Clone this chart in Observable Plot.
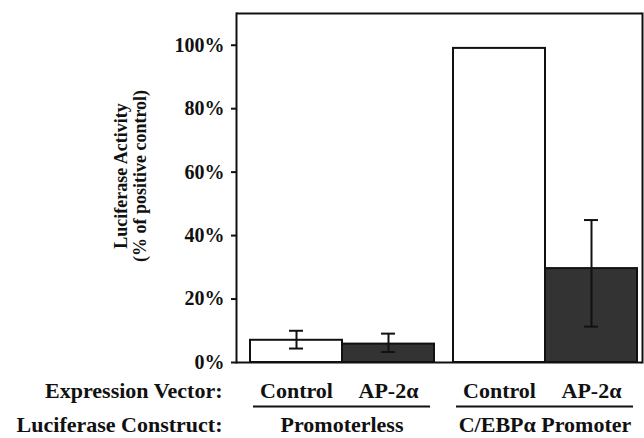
<!DOCTYPE html>
<html>
<head>
<meta charset="utf-8">
<script src="https://cdn.jsdelivr.net/npm/d3@7"></script>
<script src="https://cdn.jsdelivr.net/npm/@observablehq/plot@0.6"></script>
<style>
  html, body { margin: 0; padding: 0; background: #fff; }
  #chart svg, #chart svg text, #chart svg g {
    font-family: "Liberation Serif", "Times New Roman", serif !important;
    font-weight: 700 !important;
  }
</style>
</head>
<body>
<div id="chart"></div>
<script>
const groups = ["Promoterless", "C/EBPα Promoter"];
const vectors = ["Control", "AP-2α"];
const values = [7, 5.8, 99, 29.6];
const errLow = [4.4, 3.3, null, 11.3];
const errHigh = [10, 9.1, null, 44.9];
const yTicks = [0, 20, 40, 60, 80, 100];
const barFill = {"Control": "#ffffff", "AP-2α": "#333333"};

const rows = groups.flatMap((g, i) => vectors.map((v, j) => ({
  group: g, vector: v, value: values[i * 2 + j],
  lo: errLow[i * 2 + j], hi: errHigh[i * 2 + j]
})));
const errRows = rows.filter(d => d.lo != null);
const groupRows = groups.map(g => ({group: g}));
const firstGroup = [{group: groups[0]}];
const font = "'Liberation Serif', 'Times New Roman', serif";

const chart = Plot.plot({
  width: 644,
  height: 438,
  marginLeft: 236,
  marginRight: 2,
  marginTop: 13,
  marginBottom: 76,
  style: {color: "#111", background: "#fff"},
  fx: {domain: groups, axis: null, padding: 0},
  x: {type: "band", domain: vectors, axis: null, paddingInner: 0, paddingOuter: 0.0973, align: 0.72},
  y: {domain: [0, 110]},
  marks: [
    Plot.barY(rows, {fx: "group", x: "vector", y: "value", fill: d => barFill[d.vector], stroke: "#111", strokeWidth: 2}),
    Plot.ruleX(errRows, {fx: "group", x: "vector", y1: "lo", y2: "hi", stroke: "#111", strokeWidth: 2}),
    Plot.tickY(errRows, {fx: "group", x: "vector", y: "lo", stroke: "#111", strokeWidth: 2, insetLeft: 39, insetRight: 39}),
    Plot.tickY(errRows, {fx: "group", x: "vector", y: "hi", stroke: "#111", strokeWidth: 2, insetLeft: 39, insetRight: 39}),
    Plot.ruleY([110], {stroke: "#111", strokeWidth: 2}),
    Plot.ruleY([0], {stroke: "#111", strokeWidth: 2}),
    Plot.frame({anchor: "left", facetAnchor: "left", stroke: "#111", strokeWidth: 2}),
    Plot.frame({anchor: "right", facetAnchor: "right", stroke: "#111", strokeWidth: 2}),
    Plot.axisY({ticks: yTicks, tickFormat: d => d + "%", tickSize: 5, tickPadding: 7, fontSize: 20, fontFamily: font, fontWeight: "bold", strokeWidth: 2, label: null}),
    Plot.text(firstGroup, {fx: "group", text: () => "Luciferase Activity\n(% of positive control)", frameAnchor: "left", textAnchor: "middle", rotate: -90, dx: -106, dy: -12, fontSize: 18, fontFamily: font, fontWeight: "bold", lineHeight: 1.05, lineAnchor: "middle"}),
    Plot.text(rows, {fx: "group", x: "vector", text: "vector", frameAnchor: "bottom", dy: 28, fontSize: 22, fontFamily: font, fontWeight: "bold", lineAnchor: "middle"}),
    Plot.ruleY(groupRows, {fx: "group", y: () => 0, dy: 44, insetLeft: 17, insetRight: 9, stroke: "#111", strokeWidth: 2}),
    Plot.text(groupRows, {fx: "group", text: "group", frameAnchor: "bottom", dx: 4, dy: 62, fontSize: 22, fontFamily: font, fontWeight: "bold", lineAnchor: "middle"}),
    Plot.text(firstGroup, {fx: "group", text: () => "Expression Vector:", frameAnchor: "bottom-left", textAnchor: "end", dx: -14, dy: 28, fontSize: 22, fontFamily: font, fontWeight: "bold", lineAnchor: "middle"}),
    Plot.text(firstGroup, {fx: "group", text: () => "Luciferase Construct:", frameAnchor: "bottom-left", textAnchor: "end", dx: -14, dy: 62, fontSize: 22, fontFamily: font, fontWeight: "bold", lineAnchor: "middle"})
  ]
});
document.getElementById("chart").appendChild(chart);
</script>
</body>
</html>
